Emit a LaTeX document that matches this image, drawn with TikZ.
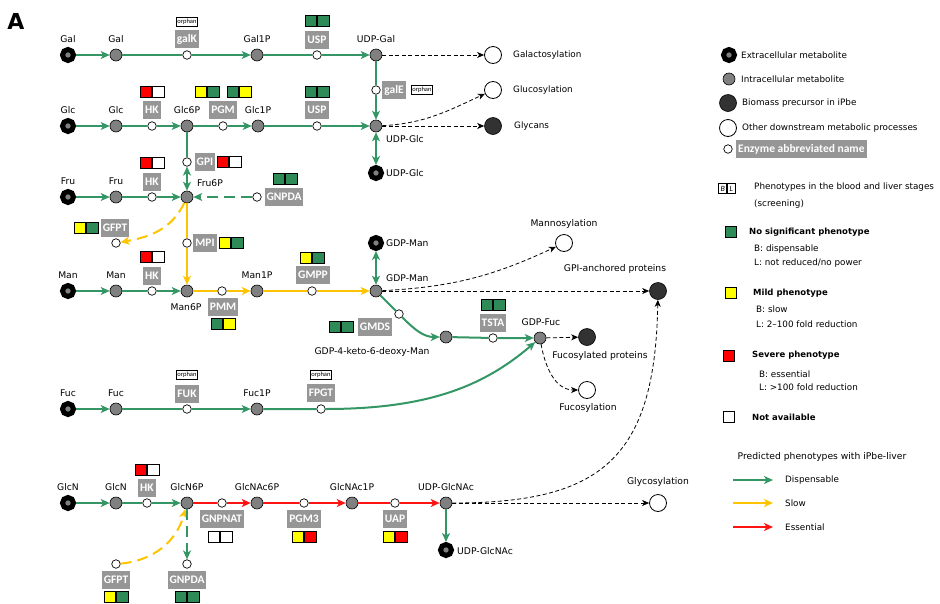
\documentclass[tikz,border=0pt]{standalone}
\usepackage{fontspec}
\setmainfont{DejaVu Sans}
\newfontfamily\enzfont{Carlito}
\usetikzlibrary{arrows.meta}
\definecolor{lgreen}{RGB}{52,150,100}
\definecolor{sqgreen}{RGB}{46,139,87}
\definecolor{lyellow}{RGB}{255,196,0}
\definecolor{sqyellow}{RGB}{255,255,0}
\definecolor{lred}{RGB}{255,20,20}
\definecolor{sqred}{RGB}{255,0,0}
\definecolor{enzgray}{RGB}{150,150,150}
\definecolor{metgray}{RGB}{128,128,128}
\definecolor{biomass}{RGB}{50,50,50}
\newcommand{\phpair}[4]{%
  \node[sq, fill=#3, anchor=east] (#1-B) at (#2) {};
  \node[sq, fill=#4, anchor=west] (#1-L) at (#2) {};
}
\begin{document}
\begin{tikzpicture}[x=1pt,y=-1pt,
  ext/.style={circle, draw=black, line width=5pt, fill=metgray, minimum size=11pt, inner sep=0pt},
  int/.style={circle, draw=black, line width=0.6pt, fill=metgray, minimum size=12pt, inner sep=0pt},
  bio/.style={circle, draw=black, line width=0.6pt, fill=biomass, minimum size=17pt, inner sep=0pt},
  oth/.style={circle, draw=black, line width=0.8pt, fill=white, minimum size=17pt, inner sep=0pt},
  enz/.style={circle, draw=black, line width=0.7pt, fill=white, minimum size=8.5pt, inner sep=0pt},
  elab/.style={fill=enzgray, text=white, font=\enzfont\bfseries\fontsize{11.5}{12}\selectfont, inner xsep=2pt, inner ysep=0pt, minimum height=17.5pt},
  orph/.style={draw=black, line width=0.6pt, fill=white, font=\enzfont\fontsize{6.5}{7}\selectfont, inner xsep=1.2pt, inner ysep=0pt, minimum height=9.5pt},
  lab/.style={font=\fontsize{9.2}{10}\selectfont, inner sep=0pt},
  lgb/.style={font=\bfseries\fontsize{8.5}{10}\selectfont, inner sep=0pt, anchor=west},
  lgt/.style={font=\fontsize{8.8}{10}\selectfont, inner sep=0pt, anchor=west},
  sq/.style={draw=black, line width=0.8pt, minimum size=11.5pt, inner sep=0pt},
  gline/.style={draw=lgreen, line width=2pt},
  yline/.style={draw=lyellow, line width=2pt},
  rline/.style={draw=lred, line width=2pt},
  dsh/.style={dash pattern=on 11pt off 6pt},
  tip/.style={-{Stealth[length=9pt,width=8pt,inset=2.5pt]}},
  tips/.style={{Stealth[length=9pt,width=8pt,inset=2.5pt]}-{Stealth[length=9pt,width=8pt,inset=2.5pt]}},
  bdash/.style={draw=black, line width=0.8pt, dash pattern=on 4pt off 2.5pt, -{Stealth[length=7pt,width=6pt,inset=2pt]}}
]
\useasboundingbox (0,0) rectangle (940,603);
\node[font=\bfseries\fontsize{22}{22}\selectfont, inner sep=0pt] (A) at (16,21) {A};

% ---------- Gal row
\node[ext] (GalX) at (68,55) {};
\node[lab] (lGalX) at (68,39) {Gal};
\node[int] (GalI) at (116,55) {};
\node[lab] (lGalI) at (116,39) {Gal};
\node[enz] (galK) at (187,55) {};
\node[elab] (egalK) at (187,39) {galK};
\node[orph] (ogalK) at (187,22) {orphan};
\node[int] (Gal1P) at (257,55) {};
\node[lab] (lGal1P) at (257,39) {Gal1P};
\node[enz] (uspA) at (317,55) {};
\node[elab] (euspA) at (317,40) {USP};
\phpair{puspA}{317,21}{sqgreen}{sqgreen}
\node[int] (UDPGal) at (376,55) {};
\node[lab] (lUDPGal) at (376,39) {UDP-Gal};
\node[oth] (Galact) at (493,55) {};
\node[lgt] (lGalact) at (513,55) {Galactosylation};

% ---------- Glc row
\node[ext] (GlcX) at (68,126) {};
\node[lab] (lGlcX) at (68,110) {Glc};
\node[int] (GlcI) at (116,126) {};
\node[lab] (lGlcI) at (116,110) {Glc};
\node[enz] (hk1) at (152,126) {};
\node[elab] (ehk1) at (152,110) {HK};
\phpair{phk1}{152,92}{sqred}{white}
\node[int] (Glc6P) at (187,126) {};
\node[lab] (lGlc6P) at (187,110) {Glc6P};
\node[enz] (pgm) at (223,126) {};
\node[elab] (epgm) at (223,110) {PGM};
\phpair{ppgmA}{207,92}{sqyellow}{sqgreen}
\phpair{ppgmB}{239,92}{sqgreen}{sqyellow}
\node[int] (Glc1P) at (258,126) {};
\node[lab] (lGlc1P) at (258,110) {Glc1P};
\node[enz] (uspB) at (317,126) {};
\node[elab] (euspB) at (317,110) {USP};
\phpair{puspB}{317,92}{sqgreen}{sqgreen}
\node[int] (UDPGlc) at (376,126) {};
\node[lab, anchor=west] (lUDPGlc) at (386,139) {UDP-Glc};
\node[enz] (galE) at (376,90) {};
\node[elab] (egalE) at (394,90) {galE};
\node[orph] (ogalE) at (422,90) {orphan};
\node[ext] (UDPGlcX) at (376,173) {};
\node[lab, anchor=west] (lUDPGlcX) at (386,173) {UDP-Glc};
\node[oth] (Glucos) at (493,90) {};
\node[lgt] (lGlucos) at (513,90) {Glucosylation};
\node[bio] (Glycans) at (493,126) {};
\node[lgt] (lGlycans) at (514,126) {Glycans};

\node[enz] (gpi) at (187,162) {};
\node[elab] (egpi) at (205,162) {GPI};
\phpair{pgpi}{229,162}{sqred}{white}

% ---------- Fru row
\node[ext] (FruX) at (68,197) {};
\node[lab] (lFruX) at (68,181) {Fru};
\node[int] (FruI) at (116,197) {};
\node[lab] (lFruI) at (116,181) {Fru};
\node[enz] (hk2) at (152,197) {};
\node[elab] (ehk2) at (152,182) {HK};
\phpair{phk2}{152,163}{sqred}{white}
\node[int] (Fru6P) at (187,197) {};
\node[lab] (lFru6P) at (210,183) {Fru6P};
\node[enz] (gnpda1) at (257,197) {};
\node[elab] (egnpda1) at (284,197) {GNPDA};
\phpair{pgnpda1}{285,179}{sqgreen}{sqgreen}

\node[enz] (gfpt1) at (116,243) {};
\node[elab] (egfpt1) at (115,228) {GFPT};
\phpair{pgfpt1}{86,228}{sqyellow}{sqgreen}
\node[enz] (mpi) at (187,243) {};
\node[elab] (empi) at (205,243) {MPI};
\phpair{pmpi}{231,243}{sqyellow}{sqgreen}

% ---------- Man row
\node[ext] (ManX) at (68,291) {};
\node[lab] (lManX) at (68,275) {Man};
\node[int] (ManI) at (116,291) {};
\node[lab] (lManI) at (116,275) {Man};
\node[enz] (hk3) at (152,291) {};
\node[elab] (ehk3) at (152,276) {HK};
\phpair{phk3}{152,257}{sqred}{white}
\node[int] (Man6P) at (187,291) {};
\node[lab] (lMan6P) at (186,307) {Man6P};
\node[enz] (pmm) at (222,291) {};
\node[elab] (epmm) at (223,307) {PMM};
\phpair{ppmm}{223,324}{sqgreen}{sqyellow}
\node[int] (Man1P) at (257,291) {};
\node[lab] (lMan1P) at (257,275) {Man1P};
\node[enz] (gmpp) at (312,291) {};
\node[elab] (egmpp) at (313,275) {GMPP};
\phpair{pgmpp}{312,258}{sqyellow}{sqgreen}
\node[int] (GDPMan) at (376,291) {};
\node[lab, anchor=west] (lGDPMan) at (386,278) {GDP-Man};
\node[ext] (GDPManX) at (376,243) {};
\node[lab, anchor=west] (lGDPManX) at (386,243) {GDP-Man};
\node[oth] (Mannos) at (564,243) {};
\node[lab] (lMannos) at (564,224) {Mannosylation};
\node[bio] (GPIanch) at (658,291) {};
\node[lab] (lGPIanch) at (615,269) {GPI-anchored proteins};
\node[enz] (gmds) at (399,314) {};
\node[elab] (egmds) at (375,327) {GMDS};
\phpair{pgmds}{341,327}{sqgreen}{sqgreen}
\node[int] (GDP4k) at (446,337) {};
\node[lab] (lGDP4k) at (372,352) {GDP-4-keto-6-deoxy-Man};
\node[enz] (tsta) at (493,338) {};
\node[elab] (etsta) at (493,323) {TSTA};
\phpair{ptsta}{493,305}{sqgreen}{sqgreen}
\node[int] (GDPFuc) at (540,338) {};
\node[lab] (lGDPFuc) at (541,322) {GDP-Fuc};
\node[bio] (FucProt) at (587,337) {};
\node[lab] (lFucProt) at (600,356) {Fucosylated proteins};
\node[oth] (Fucos) at (587,390) {};
\node[lab] (lFucos) at (588,408) {Fucosylation};

% ---------- Fuc row
\node[ext] (FucX) at (68,409) {};
\node[lab] (lFucX) at (68,393) {Fuc};
\node[int] (FucI) at (116,409) {};
\node[lab] (lFucI) at (116,393) {Fuc};
\node[enz] (fuk) at (187,409) {};
\node[elab] (efuk) at (187,394) {FUK};
\node[orph] (ofuk) at (187,375) {orphan};
\node[int] (Fuc1P) at (257,409) {};
\node[lab] (lFuc1P) at (257,393) {Fuc1P};
\node[enz] (fpgt) at (321,409) {};
\node[elab] (efpgt) at (321,393) {FPGT};
\node[orph] (ofpgt) at (321,375) {orphan};

% ---------- GlcN row
\node[ext] (GlcNX) at (68,503) {};
\node[lab] (lGlcNX) at (68,487) {GlcN};
\node[int] (GlcNI) at (116,503) {};
\node[lab] (lGlcNI) at (116,487) {GlcN};
\node[enz] (hk4) at (147,503) {};
\node[elab] (ehk4) at (147,488) {HK};
\phpair{phk4}{147,470}{sqred}{white}
\node[int] (GlcN6P) at (187,503) {};
\node[lab] (lGlcN6P) at (187,487) {GlcN6P};
\node[enz] (gnpnat) at (222,503) {};
\node[elab] (egnpnat) at (222,519) {GNPNAT};
\phpair{pgnpnat}{220,537}{white}{white}
\node[int] (GlcNAc6P) at (257,503) {};
\node[lab] (lGlcNAc6P) at (257,487) {GlcNAc6P};
\node[enz] (pgm3) at (304,503) {};
\node[elab] (epgm3) at (304,519) {PGM3};
\phpair{ppgm3}{304,537}{sqyellow}{sqred}
\node[int] (GlcNAc1P) at (352,503) {};
\node[lab] (lGlcNAc1P) at (352,487) {GlcNAc1P};
\node[enz] (uap) at (395,503) {};
\node[elab] (euap) at (395,519) {UAP};
\phpair{puap}{395,537}{sqyellow}{sqred}
\node[int] (UDPGlcNAc) at (446,503) {};
\node[lab] (lUDPGlcNAc) at (446,487) {UDP-GlcNAc};
\node[ext] (UDPGlcNAcX) at (446,550) {};
\node[lab, anchor=west] (lUDPGlcNAcX) at (457,551) {UDP-GlcNAc};
\node[oth] (Glycos) at (658,503) {};
\node[lab] (lGlycos) at (658,482) {Glycosylation};
\node[enz] (gfpt2) at (116,564) {};
\node[elab] (egfpt2) at (116,580) {GFPT};
\phpair{pgfpt2}{116,597}{sqyellow}{sqgreen}
\node[enz] (gnpda2) at (187,564) {};
\node[elab] (egnpda2) at (187,580) {GNPDA};
\phpair{pgnpda2}{187,597}{sqgreen}{sqgreen}

% ---------- connectors
\draw[gline,tip] (GalX) -- (GalI);
\draw[gline,tip] (GalI) -- (galK) -- (Gal1P);
\draw[gline,tip] (Gal1P) -- (uspA) -- (UDPGal);
\draw[gline,tip] (UDPGal) -- (galE) -- (UDPGlc);
\draw[bdash] (UDPGal) -- (Galact);
\draw[gline,tip] (GlcX) -- (GlcI);
\draw[gline,tip] (GlcI) -- (hk1) -- (Glc6P);
\draw[gline,tip] (Glc6P) -- (pgm) -- (Glc1P);
\draw[gline,tip] (Glc1P) -- (uspB) -- (UDPGlc);
\draw[gline,tips] (UDPGlc) -- (UDPGlcX);
\draw[bdash] (UDPGlc) to[out=3,in=205] (Glucos);
\draw[bdash] (UDPGlc) -- (Glycans);
\draw[gline,tips] (Glc6P) -- (gpi) -- (Fru6P);
\draw[gline,tip] (FruX) -- (FruI);
\draw[gline,tip] (FruI) -- (hk2) -- (Fru6P);
\draw[gline,tip,dsh] (gnpda1) -- (Fru6P);
\draw[yline,tip,dsh] (Fru6P) to[out=-115,in=10] (gfpt1);
\draw[yline,tip] (Fru6P) -- (mpi) -- (Man6P);
\draw[gline,tip] (ManX) -- (ManI);
\draw[gline,tip] (ManI) -- (hk3) -- (Man6P);
\draw[yline,tip] (Man6P) -- (pmm) -- (Man1P);
\draw[yline,tip] (Man1P) -- (gmpp) -- (GDPMan);
\draw[gline,tips] (GDPMan) -- (GDPManX);
\draw[bdash] (GDPMan) to[out=3,in=205] (Mannos);
\draw[bdash] (GDPMan) -- (GPIanch);
\draw[gline,tip] (GDPMan) -- (gmds) to[out=-45,in=180] (GDP4k);
\draw[gline,tip] (GDP4k) -- (tsta) -- (GDPFuc);
\draw[bdash] (GDPFuc) -- (FucProt);
\draw[bdash] (GDPFuc) to[out=-80,in=180] (Fucos);
\draw[gline,tip] (FucX) -- (FucI);
\draw[gline,tip] (FucI) -- (fuk) -- (Fuc1P);
\draw[gline,tip] (Fuc1P) -- (fpgt) .. controls (430,409) and (485,385) .. (GDPFuc);
\draw[gline,tip] (GlcNX) -- (GlcNI);
\draw[gline,tip] (GlcNI) -- (hk4) -- (GlcN6P);
\draw[rline,tip] (GlcN6P) -- (gnpnat) -- (GlcNAc6P);
\draw[rline,tip] (GlcNAc6P) -- (pgm3) -- (GlcNAc1P);
\draw[rline,tip] (GlcNAc1P) -- (uap) -- (UDPGlcNAc);
\draw[gline,tip] (UDPGlcNAc) -- (UDPGlcNAcX);
\draw[bdash] (UDPGlcNAc) -- (Glycos);
\draw[bdash] (UDPGlcNAc) .. controls (600,503) and (655,460) .. (GPIanch);
\draw[yline,tip,dsh] (gfpt2) to[out=5,in=-105] (GlcN6P);
\draw[gline,tip,dsh] (GlcN6P) -- (gnpda2);

% ---------- legend
\node[ext] (kExt) at (729,55) {};
\node[lgt] (tExt) at (741,55) {Extracellular metabolite};
\node[int] (kInt) at (729,79) {};
\node[lgt] (tInt) at (741,79) {Intracellular metabolite};
\node[bio] (kBio) at (728,103) {};
\node[lgt] (tBio) at (742,103) {Biomass precursor in iPbe};
\node[oth] (kOth) at (728,128) {};
\node[lgt] (tOth) at (742,128) {Other downstream metabolic processes};
\node[enz] (kEnz) at (728,149) {};
\node[elab, anchor=west] (tEnz) at (736,149) {Enzyme abbreviated name};
\node[draw=black, line width=0.6pt, font=\enzfont\itshape\fontsize{8}{8}\selectfont, minimum width=8pt, minimum height=9.5pt, inner sep=0pt, anchor=east] (kB) at (727,188.5) {B};
\node[draw=black, line width=0.6pt, font=\enzfont\itshape\fontsize{8}{8}\selectfont, minimum width=8pt, minimum height=9.5pt, inner sep=0pt, anchor=west] (kL) at (727,188.5) {L};
\node[lgt] (tBL1) at (754,187) {Phenotypes in the blood and liver stages};
\node[lgt] (tBL2) at (754,204) {(screening)};
\node[sq, fill=sqgreen] (kG) at (731,232) {};
\node[lgb] (tG) at (749,232) {No significant phenotype};
\node[lgt] (tG1) at (754,249) {B: dispensable};
\node[lgt] (tG2) at (754,263) {L: not reduced/no power};
\node[sq, fill=sqyellow] (kY) at (731,293) {};
\node[lgb] (tY) at (753,293) {Mild phenotype};
\node[lgt] (tY1) at (756,309) {B: slow};
\node[lgt] (tY2) at (756,324) {L: 2–100 fold reduction};
\node[sq, fill=sqred] (kR) at (729,356) {};
\node[lgb] (tR) at (752,355) {Severe phenotype};
\node[lgt] (tR1) at (759,374) {B: essential};
\node[lgt] (tR2) at (759,387) {L: >100 fold reduction};
\node[sq, fill=white] (kW) at (729,417) {};
\node[lgb] (tW) at (752,417) {Not available};
\node[lab] (tPred) at (822,457) {Predicted phenotypes with iPbe-liver};
\coordinate (a1s) at (733,480); \coordinate (a1e) at (773,480);
\coordinate (a2s) at (733,503); \coordinate (a2e) at (773,503);
\coordinate (a3s) at (733,527); \coordinate (a3e) at (773,527);
\draw[gline,tip] (a1s) -- (a1e);
\draw[yline,tip] (a2s) -- (a2e);
\draw[rline,tip] (a3s) -- (a3e);
\node[lgt] (tD) at (785,480) {Dispensable};
\node[lgt] (tS) at (785,503) {Slow};
\node[lgt] (tE) at (785,527) {Essential};
\end{tikzpicture}
\end{document}
